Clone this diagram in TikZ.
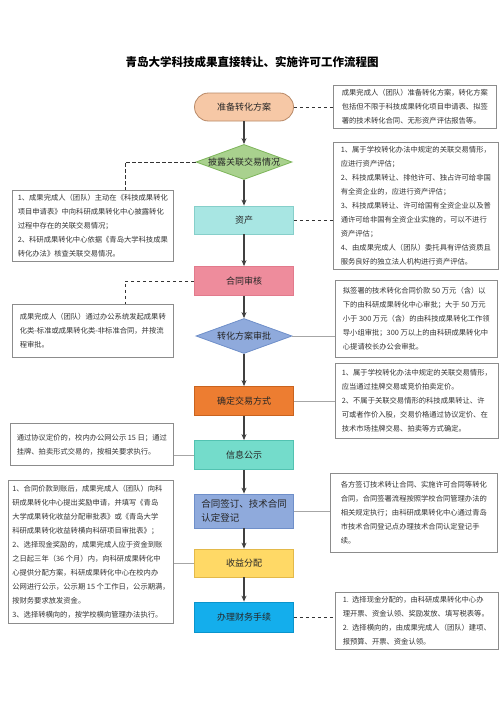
\documentclass[tikz,border=0pt]{standalone}
\usepackage{fontspec}
\setmainfont{Noto Sans CJK SC}
\usetikzlibrary{shapes.geometric,arrows.meta}
\definecolor{cPeach}{HTML}{F6C8A6}
\definecolor{cPeachD}{HTML}{B98A68}
\definecolor{cGreen}{HTML}{A9D18E}
\definecolor{cGreenD}{HTML}{7DB55A}
\definecolor{cCyan}{HTML}{A8E6E3}
\definecolor{cCyanD}{HTML}{86CFCA}
\definecolor{cPink}{HTML}{EE8C9C}
\definecolor{cPinkD}{HTML}{E27A8C}
\definecolor{cLav}{HTML}{8FAADC}
\definecolor{cLavD}{HTML}{6F8FC9}
\definecolor{cOrange}{HTML}{ED7D31}
\definecolor{cOrangeD}{HTML}{C9631E}
\definecolor{cTeal}{HTML}{74DCCB}
\definecolor{cTealD}{HTML}{52C2B1}
\definecolor{cYellow}{HTML}{FFD966}
\definecolor{cYellowD}{HTML}{E3B94A}
\definecolor{cBlue}{HTML}{14AEEC}
\definecolor{cBlueD}{HTML}{0A94CC}
\tikzset{
 flow/.style={draw, line width=0.8pt, minimum width=99pt, minimum height=28pt, inner sep=2pt,
   font=\fontsize{9}{12}\selectfont, text=black!85},
 dia/.style={flow, diamond, aspect=2.7, minimum width=96pt, minimum height=35pt, inner sep=0pt},
 note/.style={draw=black!45, line width=0.7pt, fill=white, anchor=north west, align=left,
   inner sep=4pt, font=\fontsize{7.3}{14}\selectfont, text=black!80},
 arr/.style={-{Stealth[length=6pt,width=5pt]}, line width=1.1pt, draw=black!75},
 dline/.style={dash pattern=on 3.5pt off 2.5pt, line width=0.8pt, draw=black!80},
 sline/.style={line width=0.6pt, draw=black!35},
}
\begin{document}
\begin{tikzpicture}[x=1pt,y=-1pt]
\useasboundingbox[fill=white] (0,0) rectangle (500,707);

\node[font=\fontsize{11.5}{13}\selectfont\bfseries] (title) at (252,62) {青岛大学科技成果直接转让、实施许可工作流程图};

% main flow
\node[flow, rounded corners=14pt, fill=cPeach, draw=cPeachD] (n1) at (244,107) {准备转化方案};
\node[dia, fill=cGreen, draw=cGreenD] (d1) at (244,162) {披露关联交易情况};
\node[flow, fill=cCyan, draw=cCyanD] (n2) at (244,220) {资产};
\node[flow, fill=cPink, draw=cPinkD, minimum height=29pt] (n3) at (244,281) {合同审核};
\node[dia, fill=cLav, draw=cLavD] (d2) at (244,336) {转化方案审批};
\node[flow, fill=cOrange, draw=cOrangeD, minimum height=29pt] (n4) at (244,401) {确定交易方式};
\node[flow, fill=cTeal, draw=cTealD, minimum height=29pt] (n5) at (244,455) {信息公示};
\node[flow, fill=cLav, draw=cLavD, minimum height=34pt, align=left, font=\fontsize{9.5}{14}\selectfont] (n6) at (244,511) {合同签订、技术合同\\认定登记};
\node[flow, fill=cYellow, draw=cYellowD] (n7) at (244,563) {收益分配};
\node[flow, fill=cBlue, draw=cBlueD, minimum height=30pt] (n8) at (244,617) {办理财务手续};

\draw[arr] (n1.south) -- (d1.north);
\draw[arr] (d1.south) -- (n2.north);
\draw[arr] (n2.south) -- (n3.north);
\draw[arr] (n3.south) -- (d2.north);
\draw[arr] (d2.south) -- (n4.north);
\draw[arr] (n4.south) -- (n5.north);
\draw[arr] (n5.south) -- (n6.north);
\draw[arr] (n6.south) -- (n7.north);
\draw[arr] (n7.south) -- (n8.north);

% notes
\node[note, minimum width=163pt, minimum height=43pt] (r1) at (333,85) {成果完成人（团队）准备转化方案，转化方案\\包括但不限于科技成果转化项目申请表、拟签\\署的技术转化合同、无形资产评估报告等。};
\node[note, minimum width=165pt, minimum height=126pt] (r2) at (333,142) {1、属于学校转化办法中规定的关联交易情形，\\应进行资产评估；\\2、科技成果转让、排他许可、独占许可给非国\\有全资企业的，应进行资产评估；\\3、科技成果转让、许可给国有全资企业以及普\\通许可给非国有全资企业实施的，可以不进行\\资产评估；\\4、由成果完成人（团队）委托具有评估资质且\\服务良好的独立法人机构进行资产评估。};
\node[note, minimum width=161pt, minimum height=70pt] (l1) at (12,190) {1、成果完成人（团队）主动在《科技成果转化\\项目申请表》中向科研成果转化中心披露转化\\过程中存在的关联交易情况；\\2、科研成果转化中心依据《青岛大学科技成果\\转化办法》核查关联交易情况。};
\node[note, minimum width=161pt, minimum height=53pt] (l2) at (12,304) {成果完成人（团队）通过办公系统发起成果转\\化类-标准或成果转化类-非标准合同，并按流\\程审批。};
\node[note, minimum width=162pt, minimum height=77pt] (r3) at (335,280) {拟签署的技术转化合同价款 50 万元（含）以\\下的由科研成果转化中心审批；大于 50 万元\\小于 300 万元（含）的由科技成果转化工作领\\导小组审批；300 万以上的由科研成果转化中\\心提请校长办公会审批。};
\node[note, minimum width=163pt, minimum height=75pt] (r4) at (335,363) {1、属于学校转化办法中规定的关联交易情形，\\应当通过挂牌交易或竞价拍卖定价。\\2、不属于关联交易情形的科技成果转让、许\\可或者作价入股，交易价格通过协议定价、在\\技术市场挂牌交易、拍卖等方式确定。};
\node[note, minimum width=163pt, minimum height=42pt] (l3) at (10,423) {通过协议定价的，校内办公网公示 15 日；通过\\挂牌、拍卖形式交易的，按相关要求执行。};
\node[note, minimum width=167pt, minimum height=79pt] (r5) at (330,473) {各方签订技术转让合同、实施许可合同等转化\\合同，合同签署流程按照学校合同管理办法的\\相关规定执行；由科研成果转化中心通过青岛\\市技术合同登记点办理技术合同认定登记手\\续。};
\node[note, minimum width=165pt, minimum height=143pt] (l4) at (8,480) {1、合同价款到账后，成果完成人（团队）向科\\研成果转化中心提出奖励申请，并填写《青岛\\大学成果转化收益分配审批表》或《青岛大学\\科研成果转化收益转横向科研项目审批表》；\\2、选择现金奖励的，成果完成人应于资金到账\\之日起三年（36 个月）内，向科研成果转化中\\心提供分配方案，科研成果转化中心在校内办\\公网进行公示，公示期 15 个工作日，公示期满，\\按财务要求放发资金。\\3、选择转横向的，按学校横向管理办法执行。};
\node[note, minimum width=163pt, minimum height=56pt] (r6) at (335,592) {1.\ \ 选择现金分配的，由科研成果转化中心办\\理开票、资金认领、奖励发放、填写税表等。\\2.\ \ 选择横向的，由成果完成人（团队）建项、\\报预算、开票、资金认领。};

% connectors to notes
\coordinate (k1) at (125,190);
\coordinate (k2) at (125,304);
\draw[dline] (n1.east) -- (n1.east -| r1.west);
\draw[dline] (d1.west) -| (k1);
\draw[dline] (n2.east) -- (n2.east -| r2.west);
\draw[dline] (n3.west) -| (k2);
\draw[sline] (d2.east) -- (d2.east -| r3.west);
\draw[sline] (n4.east) -- (n4.east -| r4.west);
\draw[sline] (n5.west) -- (n5.west -| l3.east);
\draw[sline] (n6.east) -- (n6.east -| r5.west);
\draw[sline] (n7.west) -- (n7.west -| l4.east);
\draw[dline] (n8.east) -- (n8.east -| r6.west);
\end{tikzpicture}
\end{document}
